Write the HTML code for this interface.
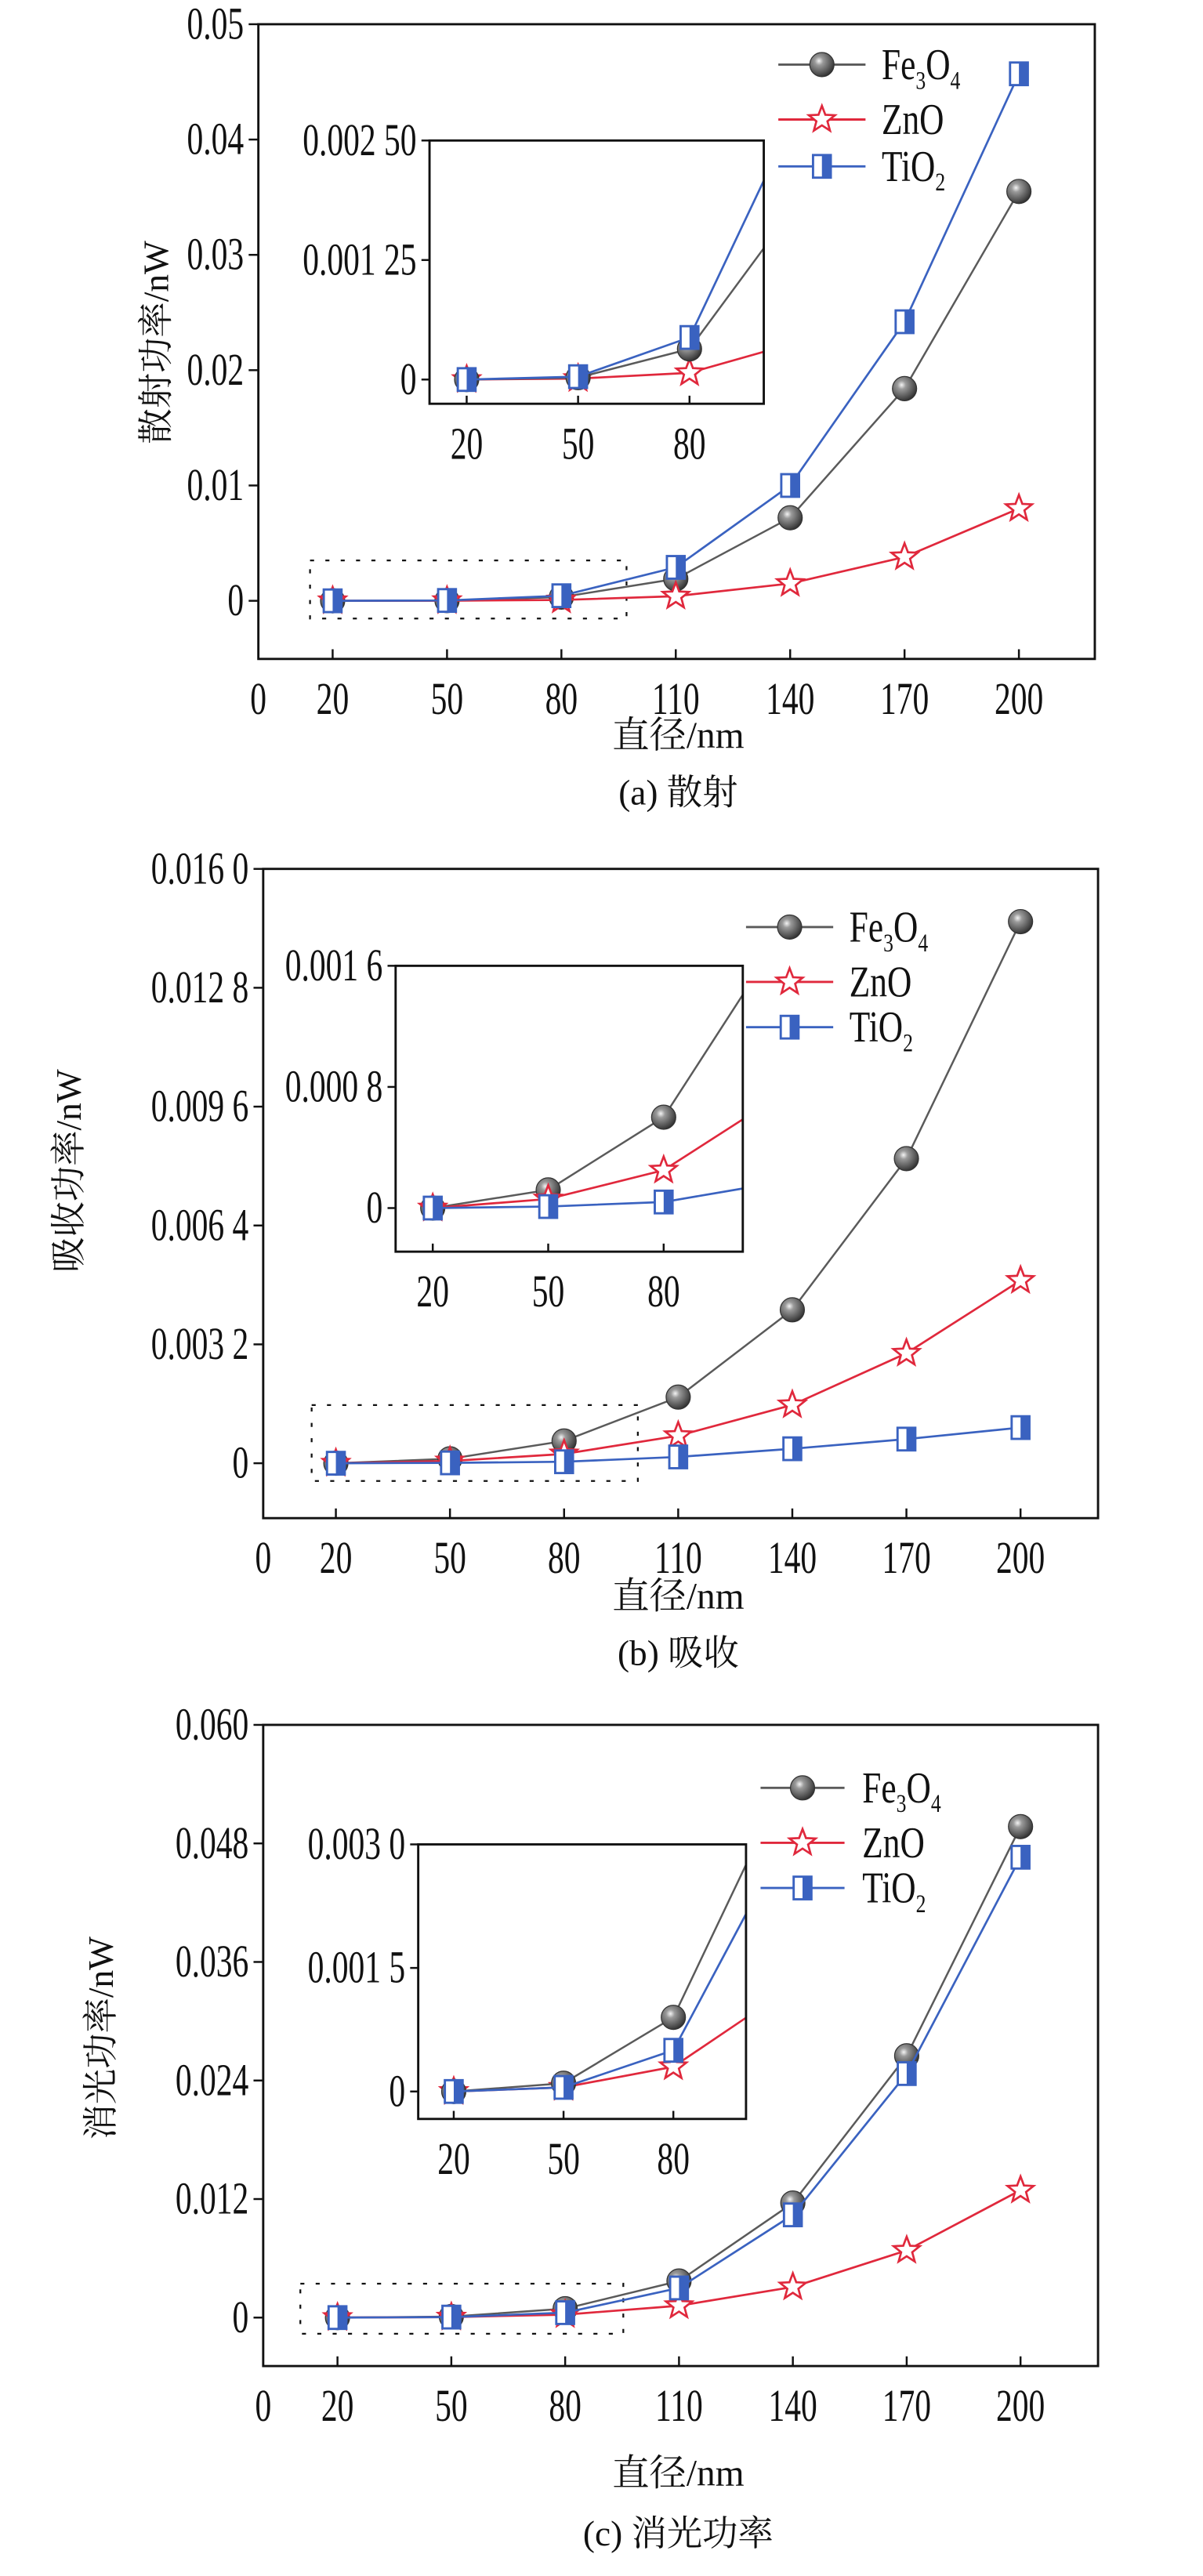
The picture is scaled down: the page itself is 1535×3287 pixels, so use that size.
<!DOCTYPE html>
<html><head><meta charset="utf-8"><style>
html,body{margin:0;padding:0;background:#fff;}
svg{display:block;}
text{font-family:"Liberation Serif","Noto Serif CJK SC","Noto Sans CJK SC",serif;fill:#111;}
</style></head><body>
<svg id="chart" xmlns="http://www.w3.org/2000/svg" width="1535" height="3287" viewBox="0 0 745 1595" preserveAspectRatio="none">
<defs>
<radialGradient id="sph" cx="0.38" cy="0.35" r="0.7">
<stop offset="0" stop-color="#f4f4f4"/><stop offset="0.25" stop-color="#9a9a9a"/><stop offset="0.8" stop-color="#4a4a4a"/><stop offset="1" stop-color="#2a2a2a"/>
</radialGradient>
</defs>
</svg>
<script>
const categories = [20, 50, 80, 110, 140, 170, 200];
const scatterFe = [0, 0.00002, 0.00032, 0.0019, 0.0072, 0.0184, 0.0355];
const scatterZn = [0, 0.00001, 0.00007, 0.0004, 0.0015, 0.0038, 0.0080];
const scatterTi = [0, 0.00003, 0.00044, 0.0029, 0.0100, 0.0242, 0.0457];
const absFe = [0, 0.00012, 0.0006, 0.00178, 0.00413, 0.0082, 0.01458];
const absZn = [0, 0.00006, 0.00025, 0.00074, 0.00157, 0.00296, 0.00492];
const absTi = [0, 0.00001, 0.00004, 0.00017, 0.00039, 0.00065, 0.00096];
const extFe = [0, 0.0001, 0.0009, 0.0037, 0.0116, 0.0265, 0.0497];
const extZn = [0, 0.00005, 0.0003, 0.0012, 0.0031, 0.0068, 0.0129];
const extTi = [0, 0.00005, 0.0005, 0.0030, 0.0104, 0.0247, 0.0466];
const xTickLabels = ["0", "20", "50", "80", "110", "140", "170", "200"];
const insetXTickLabels = ["20", "50", "80"];
const yTicksA = [0, 0.01, 0.02, 0.03, 0.04, 0.05];
const yLabelsA = ["0", "0.01", "0.02", "0.03", "0.04", "0.05"];
const yTicksB = [0, 0.0032, 0.0064, 0.0096, 0.0128, 0.016];
const yLabelsB = ["0", "0.003 2", "0.006 4", "0.009 6", "0.012 8", "0.016 0"];
const yTicksC = [0, 0.012, 0.024, 0.036, 0.048, 0.06];
const yLabelsC = ["0", "0.012", "0.024", "0.036", "0.048", "0.060"];
const insetTicksA = [0, 0.00125, 0.0025];
const insetLabelsA = ["0", "0.001 25", "0.002 50"];
const insetTicksB = [0, 0.0008, 0.0016];
const insetLabelsB = ["0", "0.000 8", "0.001 6"];
const insetTicksC = [0, 0.0015, 0.003];
const insetLabelsC = ["0", "0.001 5", "0.003 0"];

const NS = "http://www.w3.org/2000/svg";
const svg = document.getElementById("chart");
const COL = {fe: "#5a5a5a", zn: "#e0283c", ti: "#3a62c0"};
function mk(tag, attrs, parent) {
  const e = document.createElementNS(NS, tag);
  for (const k in attrs) e.setAttribute(k, attrs[k]);
  (parent || svg).appendChild(e);
  return e;
}
function txt(x, y, s, size, anchor, parent, sx) {
  const t = mk("text", {transform: "translate(" + x + "," + y + ") scale(" + (sx || 0.72) + ",1)", "font-size": size, "text-anchor": anchor || "start"}, parent);
  t.textContent = s;
  return t;
}
function marker(kind, x, y, g) {
  let m;
  if (kind === "fe") {
    m = mk("circle", {cx: x, cy: y, r: 7.5, fill: "url(#sph)", stroke: "#333", "stroke-width": 0.6}, g);
  } else if (kind === "zn") {
    const pts = [];
    for (let i = 0; i < 10; i++) {
      const r = i % 2 ? 3.6 : 8.5, a = -Math.PI / 2 + i * Math.PI / 5;
      pts.push((x + r * Math.cos(a)).toFixed(2) + "," + (y + r * Math.sin(a)).toFixed(2));
    }
    m = mk("polygon", {points: pts.join(" "), fill: "#fff", stroke: COL.zn, "stroke-width": 1.3}, g);
  } else {
    m = mk("g", {}, g);
    mk("rect", {x: x - 5.5, y: y - 7, width: 11, height: 14, fill: "#fff", stroke: COL.ti, "stroke-width": 1.4}, m);
    mk("rect", {x: x, y: y - 7, width: 5.5, height: 14, fill: COL.ti}, m);
  }
  return m;
}
function series(g, xs, ys, vals, kind, clip, name) {
  const sg = mk("g", clip ? {"clip-path": "url(#" + clip + ")"} : {}, g);
  
  
  const d = categories.map((c, i) => (i ? "L" : "M") + xs(c).toFixed(2) + "," + ys(vals[i]).toFixed(2)).join(" ");
  mk("path", {d: d, fill: "none", stroke: COL[kind], "stroke-width": kind === "fe" ? 1.2 : 1.3}, sg);
  categories.forEach((c, i) => {
    const m = marker(kind, xs(c), ys(vals[i]), sg);
    
    
  });
}
function panel(p) {
  const g = mk("g", {});
  
  
  const xs = v => p.x20 + (v - 20) * (p.x200 - p.x20) / 180;
  const ys = v => p.y0 - v * (p.y0 - p.yTopPx) / p.yTopV;
  const fr = mk("rect", {x: p.L, y: p.T, width: p.R - p.L, height: p.B - p.T, fill: "none", stroke: "#111", "stroke-width": 1.4}, g);
  
  
  p.yt.forEach((v, i) => {
    const y = ys(v);
    mk("line", {x1: p.L - 6, x2: p.L, y1: y, y2: y, stroke: "#111", "stroke-width": 1.2}, g);
    const t = txt(p.L - 9, y + 9, p.yl[i], 28, "end", g);
    
    
  });
  xTickLabels.forEach((s, i) => {
    const v = +s;
    const x = v === 0 ? p.L : xs(v);
    if (v !== 0) mk("line", {x1: x, x2: x, y1: p.B, y2: p.B - 6, stroke: "#111", "stroke-width": 1.2}, g);
    const t = txt(x, p.B + 34, s, 28, "middle", g);
    
    
  });
  const db = mk("rect", {x: p.db[0], y: p.db[1], width: p.db[2] - p.db[0], height: p.db[3] - p.db[1], fill: "none", stroke: "#111", "stroke-width": 1.1, "stroke-dasharray": "2.5,7"}, g);
  
  
  const ig = mk("g", {}, g);
  
  
  const I = p.inset;
  const ixs = v => I.x20 + (v - 20) * (I.x80 - I.x20) / 60;
  const iys = v => I.y0 - v * (I.y0 - I.yTopPx) / I.yTopV;
  mk("rect", {x: I.L, y: I.T, width: I.R - I.L, height: I.B - I.T, fill: "#fff"}, ig);
  const cp = mk("clipPath", {id: p.id + "clip"}, ig);
  mk("rect", {x: I.L, y: I.T, width: I.R - I.L, height: I.B - I.T}, cp);
  series(g, xs, ys, p.fe, "fe", null, "fe3o4-series");
  series(g, xs, ys, p.zn, "zn", null, "zno-series");
  series(g, xs, ys, p.ti, "ti", null, "tio2-series");
  g.appendChild(ig);
  I.order.forEach(k => series(ig, ixs, iys, p[k], k, p.id + "clip", "inset-" + k + "-series"));
  mk("rect", {x: I.L, y: I.T, width: I.R - I.L, height: I.B - I.T, fill: "none", stroke: "#111", "stroke-width": 1.4}, ig);
  I.yt.forEach((v, i) => {
    const y = iys(v);
    mk("line", {x1: I.L - 5, x2: I.L, y1: y, y2: y, stroke: "#111", "stroke-width": 1.2}, ig);
    const t = txt(I.L - 8, y + 9, I.yl[i], 28, "end", ig);
    
    
  });
  insetXTickLabels.forEach(s => {
    const x = ixs(+s);
    mk("line", {x1: x, x2: x, y1: I.B, y2: I.B - 5, stroke: "#111", "stroke-width": 1.2}, ig);
    const t = txt(x, I.B + 34, s, 28, "middle", ig);
    
    
  });
  const lg = mk("g", {}, g);
  
  
  const Lg = p.leg;
  [["fe", ["Fe", "3", "O", "4"]], ["zn", ["ZnO"]], ["ti", ["TiO", "2"]]].forEach((e, i) => {
    const y = Lg.ys[i];
    const eg = mk("g", {}, lg);
    
    
    mk("line", {x1: Lg.x1, x2: Lg.x2, y1: y, y2: y, stroke: COL[e[0]], "stroke-width": 1.4}, eg);
    marker(e[0], (Lg.x1 + Lg.x2) / 2, y, eg);
    const t = mk("text", {transform: "translate(" + Lg.tx + "," + (y + 9) + ") scale(0.78,1)", "font-size": 27}, eg);
    e[1].forEach((s, j) => {
      const sub = /^\d$/.test(s);
      const ts = mk("tspan", sub ? {"font-size": 16, dy: 6} : (j > 0 ? {dy: -6} : {}), t);
      ts.textContent = s;
    });
  });
  const yt = mk("text", {transform: "translate(" + p.ytx + "," + p.yty + ") rotate(-90)", "font-size": 22, "text-anchor": "middle"}, g);
  yt.textContent = p.ytitle;
  
  
  const xt = mk("text", {x: 420, y: p.xty, "font-size": 23, "text-anchor": "middle"}, g);
  xt.textContent = "直径/nm";
  
  
  const cap = mk("text", {x: 420, y: p.capy, "font-size": 22, "text-anchor": "middle"}, g);
  cap.textContent = p.caption;
  
  
}
panel({id: "a", name: "scattering-chart", L: 160, R: 678, T: 15, B: 408, x20: 206, x200: 631, y0: 372, yTopPx: 15, yTopV: 0.05,
  yt: yTicksA, yl: yLabelsA, fe: scatterFe, zn: scatterZn, ti: scatterTi, db: [192, 347, 388, 383],
  inset: {L: 266, R: 473, T: 87, B: 250, x20: 289, x80: 427, y0: 235, yTopPx: 87, yTopV: 0.0025, yt: insetTicksA, yl: insetLabelsA, order: ["zn", "fe", "ti"]},
  leg: {x1: 482, x2: 536, tx: 546, ys: [40, 74, 103]}, ytitle: "散射功率/nW", ytx: 104, yty: 212, xty: 463, capy: 498, caption: "(a) 散射"});
panel({id: "b", name: "absorption-chart", L: 163, R: 680, T: 538, B: 940, x20: 208, x200: 632, y0: 906, yTopPx: 538, yTopV: 0.016,
  yt: yTicksB, yl: yLabelsB, fe: absFe, zn: absZn, ti: absTi, db: [193, 870, 395, 917],
  inset: {L: 245, R: 460, T: 598, B: 775, x20: 268, x80: 411, y0: 748, yTopPx: 598, yTopV: 0.0016, yt: insetTicksB, yl: insetLabelsB, order: ["fe", "zn", "ti"]},
  leg: {x1: 462, x2: 516, tx: 526, ys: [574, 608, 636]}, ytitle: "吸收功率/nW", ytx: 50, yty: 725, xty: 996, capy: 1031, caption: "(b) 吸收"});
panel({id: "c", name: "extinction-chart", L: 163, R: 680, T: 1068, B: 1465, x20: 209, x200: 632, y0: 1435, yTopPx: 1068, yTopV: 0.06,
  yt: yTicksC, yl: yLabelsC, fe: extFe, zn: extZn, ti: extTi, db: [186, 1414, 386, 1445],
  inset: {L: 259, R: 462, T: 1142, B: 1312, x20: 281, x80: 417, y0: 1295, yTopPx: 1142, yTopV: 0.003, yt: insetTicksC, yl: insetLabelsC, order: ["zn", "fe", "ti"]},
  leg: {x1: 471, x2: 523, tx: 534, ys: [1107, 1141, 1169]}, ytitle: "消光功率/nW", ytx: 70, yty: 1262, xty: 1539, capy: 1576, caption: "(c) 消光功率"});
</script>
</body></html>
